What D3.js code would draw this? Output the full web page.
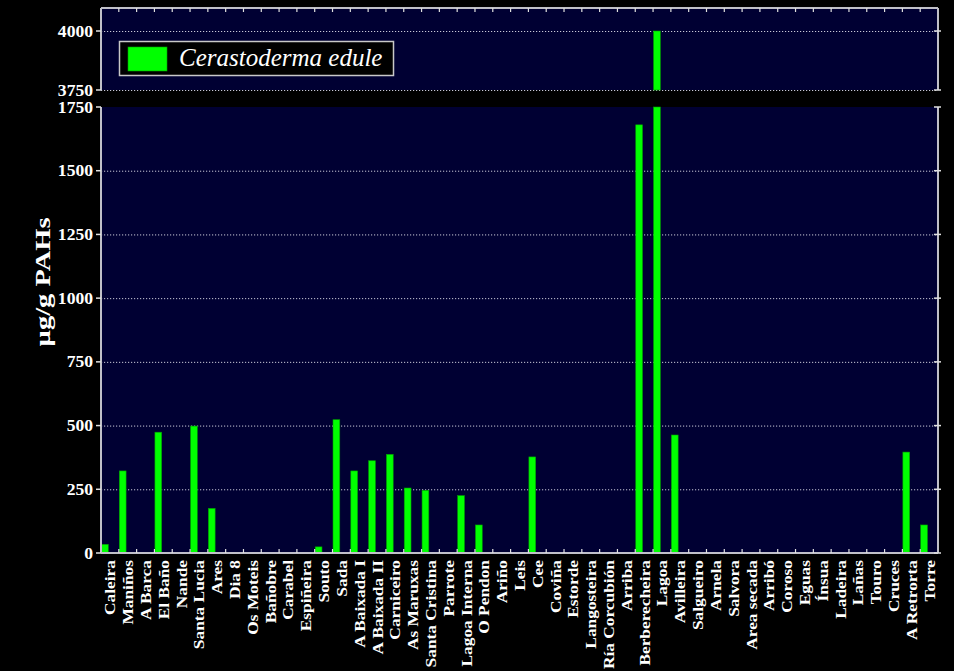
<!DOCTYPE html>
<html>
<head>
<meta charset="utf-8">
<script src="https://cdn.jsdelivr.net/npm/d3@7"></script>
<style>
  body { margin: 0; background: #000; }
  text { font-family: "Liberation Serif", "Times New Roman", serif; fill: #fff; }
</style>
</head>
<body>
<div id="chart"></div>
<script>
var sites = [
  'Caleira', 'Maniños', 'A Barca', 'El Baño', 'Nande', 'Santa Lucia', 'Ares', 'Dia 8',
  'Os Moteis', 'Bañobre', 'Carabel', 'Espiñeira', 'Souto', 'Sada', 'A Baixada I',
  'A Baixada II', 'Carniceiro', 'As Maruxas', 'Santa Cristina', 'Parrote', 'Lagoa Interna',
  'O Pendon', 'Ariño', 'Leis', 'Cee', 'Coviña', 'Estorde', 'Langosteira', 'Ría Corcubión',
  'Arriba', 'Berberecheira', 'Lagoa', 'Avilleira', 'Salgueiro', 'Arnela', 'Salvora',
  'Area secada', 'Arribó', 'Coroso', 'Eguas', 'Ínsua', 'Ladeira', 'Lañas', 'Touro',
  'Cruces', 'A Retrorta', 'Torre'
];

// µg/g PAHs, Cerastoderma edule (0 = no sample)
var cockle = [
  34, 322, 0, 474, 0, 498, 175, 0,
  0, 0, 0, 0, 24, 523, 322,
  362, 387, 255, 246, 0, 225,
  110, 0, 0, 377, 0, 0, 0, 0,
  0, 1680, 4000, 463, 0, 0, 0,
  0, 0, 0, 0, 0, 0, 0, 0,
  0, 396, 110
];

var seriesName = 'Cerastoderma edule';
var lowTicks = [0, 250, 500, 750, 1000, 1250, 1500, 1750];
var highTicks = [3750, 4000];

var W = 954, H = 671;
var left = 101, right = 938;
var hiTop = 8, hiBottom = 90, loTop = 107, loBottom = 553;

var svg = d3.select('#chart').append('svg')
  .attr('width', W).attr('height', H);

svg.append('rect').attr('width', W).attr('height', H).attr('fill', '#000');

var x = d3.scaleBand().domain(sites).range([left, right]).paddingInner(0).paddingOuter(0);
var yLo = d3.scaleLinear().domain([0, 1750]).range([loBottom, loTop]);
var yHi = d3.scaleLinear().domain([3750, 4000]).range([hiBottom, 31]);

// panel backgrounds
svg.append('rect').attr('x', left).attr('y', hiTop)
  .attr('width', right - left).attr('height', hiBottom - hiTop).attr('fill', '#000033');
svg.append('rect').attr('x', left).attr('y', loTop)
  .attr('width', right - left).attr('height', loBottom - loTop).attr('fill', '#000033');

// dotted grid
var grid = svg.append('g')
  .attr('stroke', '#c8c8d8').attr('stroke-width', 1).attr('stroke-dasharray', '1.2,1.8');
grid.selectAll('.glo').data(lowTicks.filter(function(t){ return t > 0 && t < 1750; }))
  .enter().append('line')
  .attr('x1', left).attr('x2', right)
  .attr('y1', function(d){ return yLo(d) + 0.5; }).attr('y2', function(d){ return yLo(d) + 0.5; });
grid.selectAll('.ghi').data(highTicks).enter().append('line')
  .attr('x1', left).attr('x2', right)
  .attr('y1', function(d){ return yHi(d) + 0.5; }).attr('y2', function(d){ return yHi(d) + 0.5; });

// bars, left part of each band
var barW = x.bandwidth() * 0.38;
var bars = svg.append('g');
bars.selectAll('.blo').data(cockle.map(function(v, i){ return {site: sites[i], v: v}; })
    .filter(function(d){ return d.v > 0; }))
  .enter().append('rect')
  .attr('x', function(d){ return x(d.site) + 0.5; })
  .attr('y', function(d){ return yLo(Math.min(d.v, 1750)); })
  .attr('width', barW)
  .attr('height', function(d){ return loBottom - yLo(Math.min(d.v, 1750)); })
  .attr('fill', '#00ff00').attr('stroke', '#00a000').attr('stroke-width', 0.6);
bars.selectAll('.bhi').data(cockle.map(function(v, i){ return {site: sites[i], v: v}; })
    .filter(function(d){ return d.v > 3750; }))
  .enter().append('rect')
  .attr('x', function(d){ return x(d.site) + 0.5; })
  .attr('y', function(d){ return yHi(d.v); })
  .attr('width', barW)
  .attr('height', function(d){ return hiBottom - yHi(d.v); })
  .attr('fill', '#00ff00').attr('stroke', '#00a000').attr('stroke-width', 0.6);

// frame lines
var frame = svg.append('g').attr('stroke', '#c0c0c8').attr('stroke-width', 2);
frame.append('line').attr('x1', left).attr('x2', right).attr('y1', hiTop).attr('y2', hiTop);
frame.append('line').attr('x1', left).attr('x2', right).attr('y1', loBottom).attr('y2', loBottom);
frame.append('line').attr('x1', left).attr('x2', left).attr('y1', hiTop).attr('y2', hiBottom);
frame.append('line').attr('x1', left).attr('x2', left).attr('y1', loTop).attr('y2', loBottom);
frame.append('line').attr('x1', right).attr('x2', right).attr('y1', hiTop).attr('y2', hiBottom);
frame.append('line').attr('x1', right).attr('x2', right).attr('y1', loTop).attr('y2', loBottom);

// category ticks on band edges, pointing inwards top and bottom
var edges = sites.slice(1).map(function(s){ return x(s); });
var ticks = svg.append('g').attr('stroke', '#e0e0e0').attr('stroke-width', 1.2);
ticks.selectAll('.tb').data(edges).enter().append('line')
  .attr('x1', function(d){ return d; }).attr('x2', function(d){ return d; })
  .attr('y1', loBottom).attr('y2', loBottom - 4);
ticks.selectAll('.tt').data(edges).enter().append('line')
  .attr('x1', function(d){ return d; }).attr('x2', function(d){ return d; })
  .attr('y1', hiTop).attr('y2', hiTop + 4);

// y axes
function yAxis(scale, values) {
  var g = svg.append('g').attr('transform', 'translate(' + left + ',0)');
  var t = g.selectAll('.t').data(values).enter().append('g')
    .attr('transform', function(d){ return 'translate(0,' + scale(d) + ')'; });
  t.append('line').attr('x1', -5).attr('x2', 0).attr('stroke', '#e0e0e0').attr('stroke-width', 1.5);
  t.append('line').attr('x1', right - left - 4).attr('x2', right - left + 3)
    .attr('stroke', '#e0e0e0').attr('stroke-width', 1.5);
  t.append('text')
    .attr('transform', 'translate(-8,0) scale(1.1,1)')
    .attr('text-anchor', 'end').attr('dy', '0.35em')
    .attr('font-size', 16).attr('font-weight', 'bold')
    .text(function(d){ return d; });
}
yAxis(yLo, lowTicks);
yAxis(yHi, highTicks);

// category labels
svg.append('g').selectAll('text').data(sites).enter().append('text')
  .attr('transform', function(d){
    return 'translate(' + (x(d) + x.bandwidth() / 2 + 5.5) + ',560) rotate(-90) scale(1.12,1)';
  })
  .attr('text-anchor', 'end')
  .attr('font-size', 15.5).attr('font-weight', 'bold')
  .text(function(d){ return d; });

// y title
svg.append('text')
  .attr('transform', 'translate(50,282) rotate(-90)')
  .attr('text-anchor', 'middle')
  .attr('font-size', 21).attr('font-weight', 'bold')
  .attr('textLength', 129).attr('lengthAdjust', 'spacingAndGlyphs')
  .text('µg/g PAHs');

// legend
var legend = svg.append('g');
legend.append('rect').attr('x', 119.5).attr('y', 41.5).attr('width', 274).attr('height', 34)
  .attr('fill', '#000').attr('stroke', '#c8c8c8').attr('stroke-width', 1.5);
legend.append('rect').attr('x', 128).attr('y', 47).attr('width', 39).attr('height', 24)
  .attr('fill', '#00ff00').attr('stroke', '#00a000').attr('stroke-width', 0.6);
legend.append('text').attr('x', 179).attr('y', 66)
  .attr('font-size', 25).attr('font-style', 'italic')
  .text(seriesName);
</script>
</body>
</html>
